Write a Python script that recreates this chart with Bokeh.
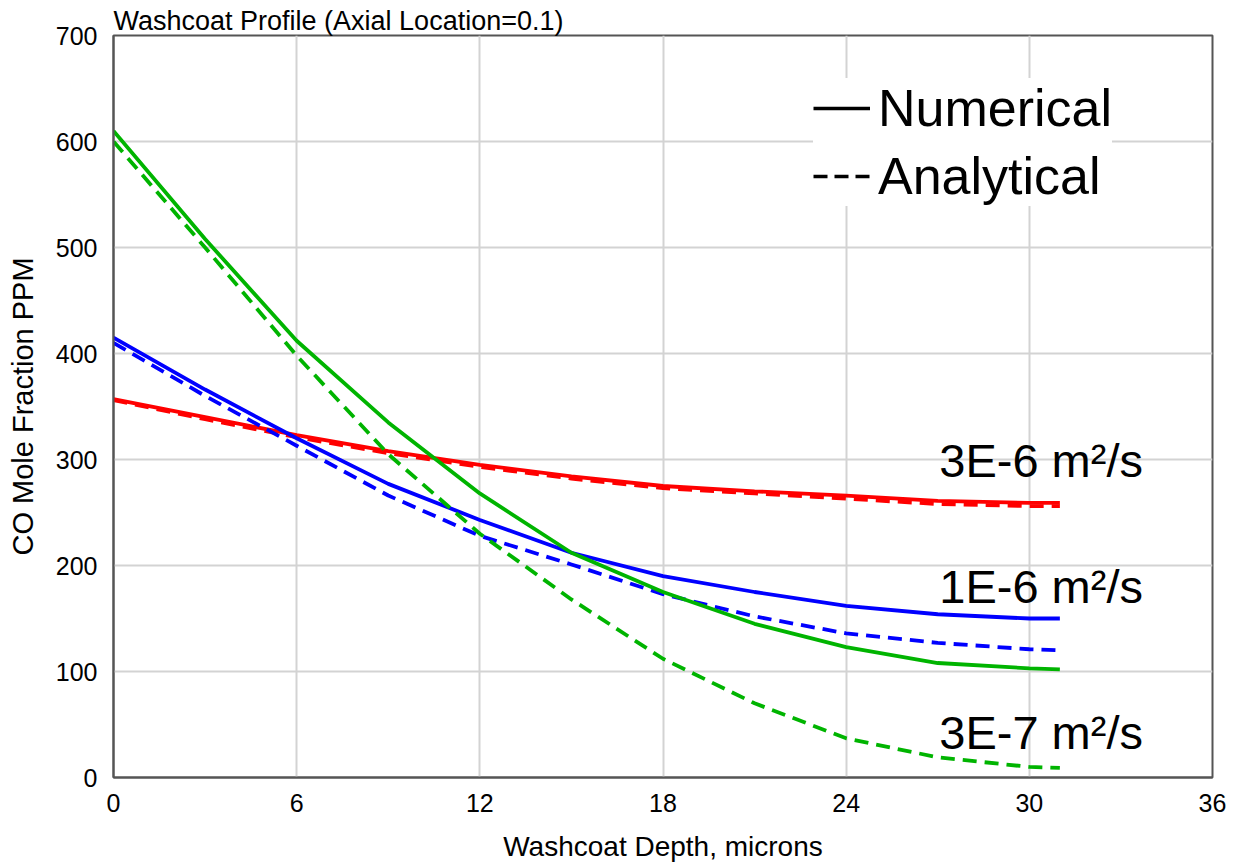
from bokeh.plotting import figure
from bokeh.models import Range1d, SingleIntervalTicker, Legend, LegendItem, Label
from bokeh.embed import file_html
from bokeh.resources import INLINE

# ---- data ----
depth = [0, 3, 6, 9, 12, 15, 18, 21, 24, 27, 30, 31]

green_num = [610, 508, 412, 335, 268, 212, 175, 145, 123, 108, 103, 102]
green_ana = [600, 500, 398, 305, 230, 168, 112, 70, 37, 19, 10, 9]
blue_num = [415, 366, 320, 277, 243, 212, 190, 175, 162, 154, 150, 150]
blue_ana = [410, 360, 313, 266, 228, 201, 173, 152, 136, 127, 121, 120]
red_num = [357, 340, 323, 308, 295, 284, 275, 270, 266, 261, 259, 259]
red_ana = [356, 338, 321, 306, 293, 282, 273, 268, 263, 258, 256, 256]

series_labels = ["3E-6 m\u00b2/s", "1E-6 m\u00b2/s", "3E-7 m\u00b2/s"]
label_x = [27.05, 27.05, 27.05]
label_y = [299, 180, 42]

legend_labels = ["Numerical", "Analytical"]
nan = float("nan")

FONT = "Liberation Sans"
GREEN = "#00b400"
BLUE = "#0000ff"
RED = "#ff0000"

p = figure(width=1233, height=866, output_backend="svg", toolbar_location=None,
           x_range=Range1d(0, 36), y_range=Range1d(0, 700),
           min_border_left=113, min_border_right=21, min_border_top=35, min_border_bottom=89)

p.title.text = "Washcoat Profile (Axial Location=0.1)"
p.title.text_font = FONT
p.title.text_font_size = "27px"
p.title.text_font_style = "normal"
p.title.text_color = "black"
p.title.standoff = 0
p.title.offset = 0

p.xaxis.ticker = SingleIntervalTicker(interval=6)
p.yaxis.ticker = SingleIntervalTicker(interval=100)
p.xaxis.axis_label = "Washcoat Depth, microns"
p.yaxis.axis_label = "CO Mole Fraction PPM"
for ax in (p.xaxis, p.yaxis):
    ax.axis_label_text_font = FONT
    ax.axis_label_text_font_style = "normal"
    ax.major_label_text_font = FONT
    ax.major_label_text_font_size = "25px"
    ax.major_label_text_color = "black"
    ax.axis_label_text_color = "black"
    ax.major_tick_line_color = None
    ax.minor_tick_line_color = None
    ax.axis_line_color = "#555555"
    ax.axis_line_width = 2
    ax.major_label_standoff = 10
p.xaxis.axis_label_text_font_size = "28px"
p.xaxis.axis_label_standoff = 16
p.yaxis.axis_label_text_font_size = "29px"
p.yaxis.axis_label_standoff = 14

p.xgrid.grid_line_color = "#d3d3d3"
p.ygrid.grid_line_color = "#d3d3d3"
p.xgrid.grid_line_width = 2
p.ygrid.grid_line_width = 2
p.outline_line_color = "#555555"
p.outline_line_width = 2
p.background_fill_color = "white"
p.border_fill_color = "white"

LW = 3.8
DASH = "14 8"
p.line(depth, red_ana, line_color=RED, line_width=LW, line_dash=DASH)
p.line(depth, red_num, line_color=RED, line_width=LW)
p.line(depth, blue_ana, line_color=BLUE, line_width=LW, line_dash=DASH)
p.line(depth, blue_num, line_color=BLUE, line_width=LW)
p.line(depth, green_ana, line_color=GREEN, line_width=LW, line_dash=DASH)
p.line(depth, green_num, line_color=GREEN, line_width=LW)

# legend key renderers (black, nothing visible in the plot)
r_num = p.line([nan, nan], [nan, nan], line_color="black", line_width=3.5)
r_ana = p.line([nan, nan], [nan, nan], line_color="black", line_width=3.5, line_dash="14 7")
legend = Legend(items=[LegendItem(label=legend_labels[0], renderers=[r_num]),
                       LegendItem(label=legend_labels[1], renderers=[r_ana])],
                location=(700, 571), orientation="vertical",
                label_text_font=FONT, label_text_font_size="52px",
                label_text_color="black",
                glyph_width=57, glyph_height=20, label_standoff=8,
                spacing=8, padding=8, margin=0,
                border_line_color=None, background_fill_color="white",
                background_fill_alpha=1.0)
p.add_layout(legend, "center")

for t, xx, yy in zip(series_labels, label_x, label_y):
    p.add_layout(Label(x=xx, y=yy, text=t, text_font=FONT, text_font_size="47px",
                       text_color="black", text_baseline="alphabetic"))

open("out.html", "w").write(file_html(p, INLINE))
